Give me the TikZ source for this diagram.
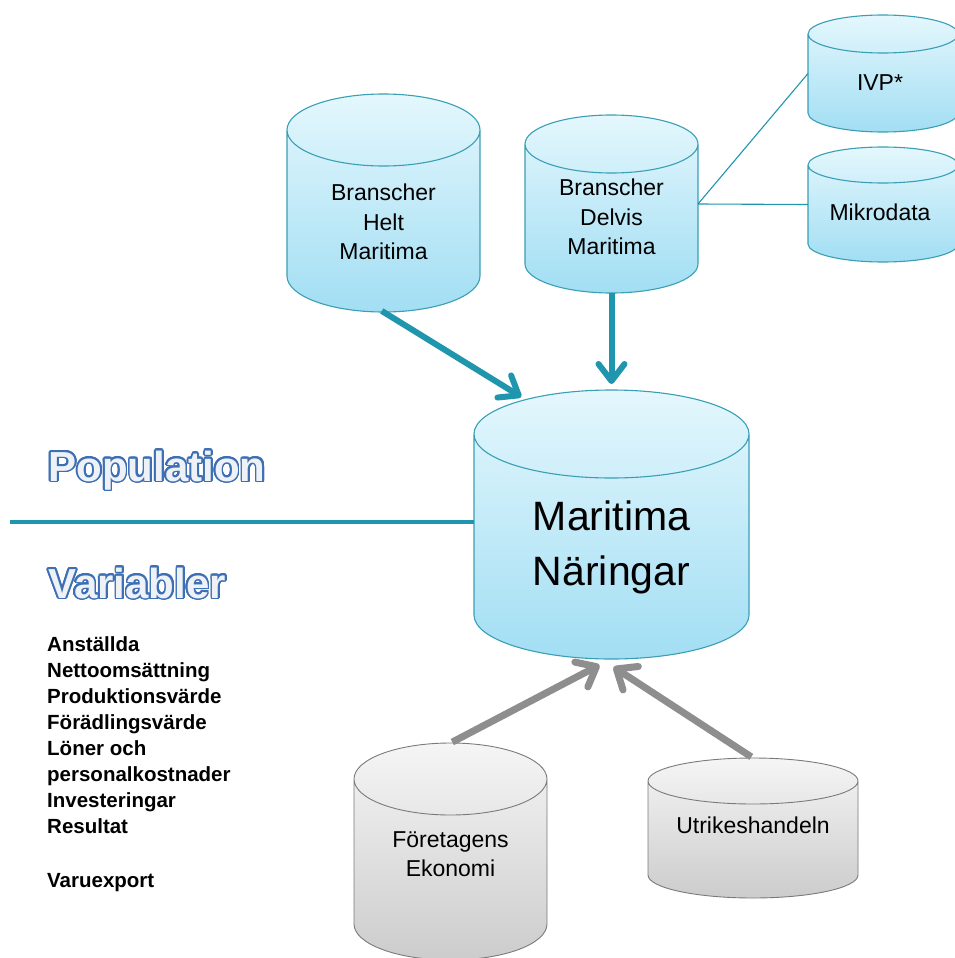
\documentclass[tikz,border=0pt]{standalone}
\usepackage{fontspec}
\setmainfont{Liberation Sans}
\usepackage{contour}
\usetikzlibrary{arrows.meta,calc,positioning}
\definecolor{cyltop}{HTML}{E4F7FD}
\definecolor{cylbot}{HTML}{A2DEF3}
\definecolor{cylline}{HTML}{3A9FB5}
\definecolor{graytop}{HTML}{F5F5F5}
\definecolor{graybot}{HTML}{CCCCCC}
\definecolor{grayline}{HTML}{7A7A7A}
\definecolor{mteal}{HTML}{1F96AD}
\definecolor{arrgray}{HTML}{8E8E8E}
\definecolor{popblue}{HTML}{3D6FB4}
\definecolor{popfill}{HTML}{EEF2F7}
\contourlength{1.6pt}
\contournumber{24}
% cylinder around a box node: name, end radius, style
\newcommand\drawcyl[3]{%
\path[#3] let \p1=(#1.north west),\p2=(#1.south east),\n1={(\x2-\x1)/2} in
 (\x1,\y1-#2)--(\x1,\y2+#2)
 arc[start angle=180,end angle=360,x radius={\n1*1pt},y radius=#2]
 --(\x2,\y1-#2)
 arc[start angle=0,end angle=180,x radius={\n1*1pt},y radius=#2]--cycle
 (\x1,\y1-#2) arc[start angle=180,end angle=360,x radius={\n1*1pt},y radius=#2];}
\tikzset{
 cylbox/.style={rectangle,inner sep=0pt,outer sep=0pt},
 bluecyl/.style={top color=cyltop,bottom color=cylbot,draw=cylline,line width=1.1pt},
 graycyl/.style={top color=graytop,bottom color=graybot,draw=grayline,line width=0.9pt},
 cyltext/.style={align=center,font=\fontsize{23}{29.5}\selectfont},
 bigtext/.style={align=center,font=\fontsize{41}{55}\selectfont},
 heading/.style={text=popfill,font=\fontsize{42}{50}\selectfont\bfseries},
 varlist/.style={align=left,inner sep=0pt,font=\fontsize{20.5}{26}\selectfont\bfseries},
 feed/.style={mteal,line width=6pt,-{Straight Barb[length=17pt,width=26pt,round]}},
 source/.style={arrgray,line width=7pt,-{Straight Barb[length=17pt,width=28pt,round]}},
 link/.style={mteal,line width=1.1pt}
}
\begin{document}
\begin{tikzpicture}[x=1pt,y=-1pt]
\clip(0,0)rectangle(955,958);
\fill[white](0,0)rectangle(955,958);
% populationskällor
\node[cylbox,minimum width=193,minimum height=218](hm)at(383.5,203){};
\drawcyl{hm}{36pt}{bluecyl}
\node[cyltext](hmtext)at(383.5,222){Branscher\\Helt\\Maritima};
\node[cylbox,minimum width=173,minimum height=178](dm)at(611.5,204){};
\drawcyl{dm}{29pt}{bluecyl}
\node[cyltext](dmtext)at(611.5,217){Branscher\\Delvis\\Maritima};
\node[cylbox,minimum width=150,minimum height=117](ivp)at(883,73.5){};
\drawcyl{ivp}{19pt}{bluecyl}
\node[cyltext](ivptext)at(880,83){IVP*};
\node[cylbox,minimum width=150,minimum height=115](mik)at(883,204.5){};
\drawcyl{mik}{18pt}{bluecyl}
\node[cyltext](miktext)at(880,212){Mikrodata};
% huvuddatabas
\node[cylbox,minimum width=275,minimum height=269](mn)at(611.5,524.5){};
\drawcyl{mn}{44pt}{bluecyl}
\node[bigtext](mntext)at(611.5,547){Maritima\\Näringar};
% variabelkällor
\node[cylbox,minimum width=193,minimum height=217](fe)at(450.5,851.5){};
\drawcyl{fe}{36pt}{graycyl}
\node[cyltext](fetext)at(450.5,854){Företagens\\Ekonomi};
\node[cylbox,minimum width=210,minimum height=140](uh)at(753,828){};
\drawcyl{uh}{23pt}{graycyl}
\node[cyltext](uhtext)at(753,825){Utrikeshandeln};
% rubriker
\coordinate(split)at(10,522);
\draw[mteal,line width=4pt](split)--(split-|mn.west);
\node[heading,anchor=base west](pop)at(45,481){\contour{popblue}{Population}};
\node[heading,anchor=base west](var)at(45,598){\contour{popblue}{Variabler}};
\node[varlist,anchor=base west](vars)at(47,887){Anställda\\Nettoomsättning\\Produktionsvärde\\Förädlingsvärde\\Löner och\\personalkostnader\\Investeringar\\Resultat\\[28pt]Varuexport};
% pilar
\draw[link](dm.east)--(ivp.west);
\draw[link](dm.east)--(mik.west);
\draw[feed,shorten <=-2pt,shorten >=2pt](hm.south)--([xshift=-88.5pt,yshift=-8pt]mn.north);
\draw[feed,shorten >=6pt](dm.south)--(mn.north);
\draw[source,shorten <=2pt](fe.north)--([xshift=-12pt,yshift=-6pt]mn.south);
\draw[source,shorten <=2pt](uh.north)--([xshift=2pt,yshift=-8pt]mn.south);
\end{tikzpicture}
\end{document}
